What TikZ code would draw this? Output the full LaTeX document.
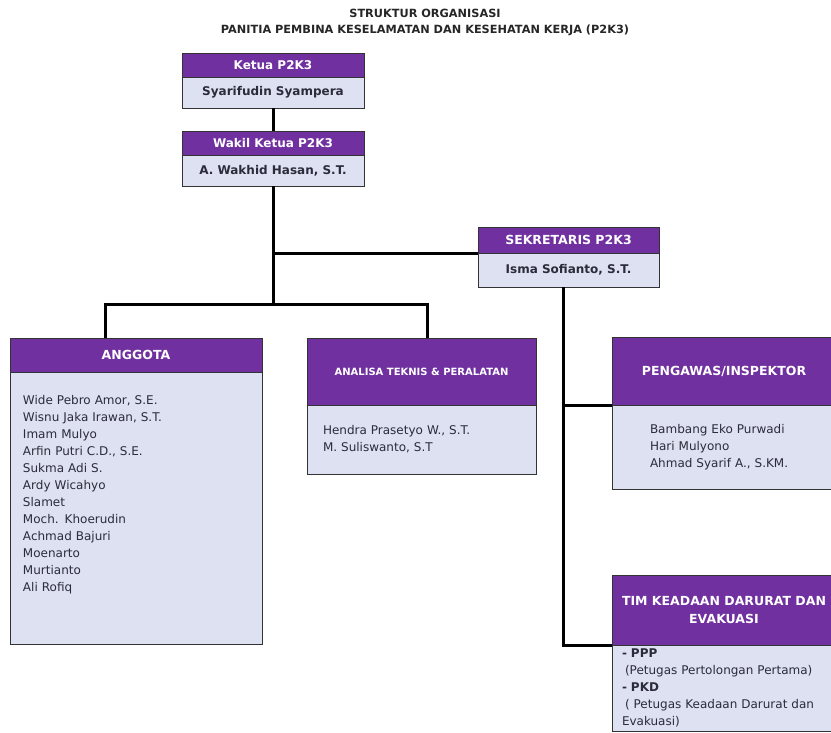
\documentclass[tikz,border=0pt]{standalone}
\usepackage{fontspec}
\setmainfont{DejaVu Sans}

\definecolor{ungu}{HTML}{7030A0}
\definecolor{isibox}{HTML}{DDE1F1}
\definecolor{teks}{HTML}{2B2B3B}

\tikzset{
  judul/.style={font=\bfseries\fontsize{11.3}{16}\selectfont, text=black!85, align=center},
  kepala/.style={draw=black!80, line width=1pt, fill=ungu, text=white,
    font=\bfseries\fontsize{12.5}{18}\selectfont, align=center, inner sep=0pt, outer sep=0pt},
  nama/.style={draw=black!80, line width=1pt, fill=isibox, text=teks,
    font=\bfseries\fontsize{12}{14}\selectfont, inner sep=0pt, outer sep=0pt},
  daftar/.style={draw=black!80, line width=1pt, fill=isibox, text=teks,
    font=\fontsize{12}{17}\selectfont, align=left, inner ysep=0pt, outer sep=0pt},
  penghubung/.style={line width=3pt}
}

\begin{document}
\begin{tikzpicture}[x=1pt,y=-1pt]
    \useasboundingbox (0,0) rectangle (831,732);

    \node[judul] (judul) at (425,22) {STRUKTUR ORGANISASI\\PANITIA PEMBINA KESELAMATAN DAN KESEHATAN KERJA (P2K3)};

    % ketua dan wakil
    \node[kepala, font=\bfseries\fontsize{12}{14}\selectfont, minimum width=182pt, minimum height=24pt, anchor=north west] (ketuaH) at (182,53) {Ketua P2K3};
    \node[nama, minimum width=182pt, minimum height=31pt, anchor=north] (ketuaB) at (ketuaH.south) {Syarifudin Syampera};
    \node[kepala, font=\bfseries\fontsize{12}{14}\selectfont, minimum width=182pt, minimum height=24pt, anchor=north west] (wakilH) at (182,131) {Wakil Ketua P2K3};
    \node[nama, minimum width=182pt, minimum height=31pt, anchor=north] (wakilB) at (wakilH.south) {A. Wakhid Hasan, S.T.};

    \node[kepala, minimum width=181pt, minimum height=26pt, anchor=north west] (sekH) at (478,227) {SEKRETARIS P2K3};
    \node[nama, minimum width=181pt, minimum height=34pt, anchor=north] (sekB) at (sekH.south) {Isma Sofianto, S.T.};

    % anggota
    \node[kepala, minimum width=252pt, minimum height=34pt, anchor=north west] (anggH) at (10,338) {ANGGOTA};
    \node[daftar, inner xsep=13pt, text width=226pt, minimum height=272pt, anchor=north] (anggB) at (anggH.south)
        {Wide Pebro Amor, S.E.\\Wisnu Jaka Irawan, S.T.\\Imam Mulyo\\Arfin Putri C.D., S.E.\\Sukma Adi S.\\Ardy Wicahyo\\Slamet\\Moch. Khoerudin\\Achmad Bajuri\\Moenarto\\Murtianto\\Ali Rofiq\\[12pt]\mbox{}};

    \node[kepala, font=\bfseries\fontsize{10}{12}\selectfont, minimum width=229pt, minimum height=67pt, anchor=north west] (analH) at (307,338) {ANALISA TEKNIS \& PERALATAN};
    \node[daftar, inner xsep=16pt, text width=197pt, minimum height=69pt, anchor=north] (analB) at (analH.south)
        {Hendra Prasetyo W., S.T.\\M. Suliswanto, S.T};

    \node[kepala, minimum width=224pt, minimum height=68pt, anchor=north west] (pengH) at (612,337) {PENGAWAS/INSPEKTOR};
    \node[daftar, inner xsep=38pt, text width=148pt, minimum height=84pt, anchor=north] (pengB) at (pengH.south)
        {Bambang Eko Purwadi\\Hari Mulyono\\Ahmad Syarif A., S.KM.};

    \node[kepala, minimum width=224pt, minimum height=70pt, anchor=north west] (timH) at (612,575) {TIM KEADAAN DARURAT DAN\\EVAKUASI};
    \node[daftar, inner xsep=10pt, text width=204pt, minimum height=86pt, anchor=north] (timB) at (timH.south)
        {\textbf{- PPP}\\\hspace*{3pt}(Petugas Pertolongan Pertama)\\\textbf{- PKD}\\\hspace*{3pt}( Petugas Keadaan Darurat dan\\Evakuasi)};

    % garis penghubung
    \coordinate (simpang) at (273,304);
    \draw[penghubung] (ketuaB.south) -- (wakilH.north);
    \draw[penghubung] (wakilB.south) -- (simpang);
    \draw[penghubung] (wakilB.south) |- (sekB.north west);
    \draw[penghubung] ([xshift=-31pt]anggH.north) |- (simpang) -| ([xshift=6pt]analH.north);
    \draw[penghubung] ([xshift=-5pt]sekB.south) |- (pengB.north west);
    \draw[penghubung] ([xshift=-5pt]sekB.south) |- (timB.north west);
\end{tikzpicture}
\end{document}
